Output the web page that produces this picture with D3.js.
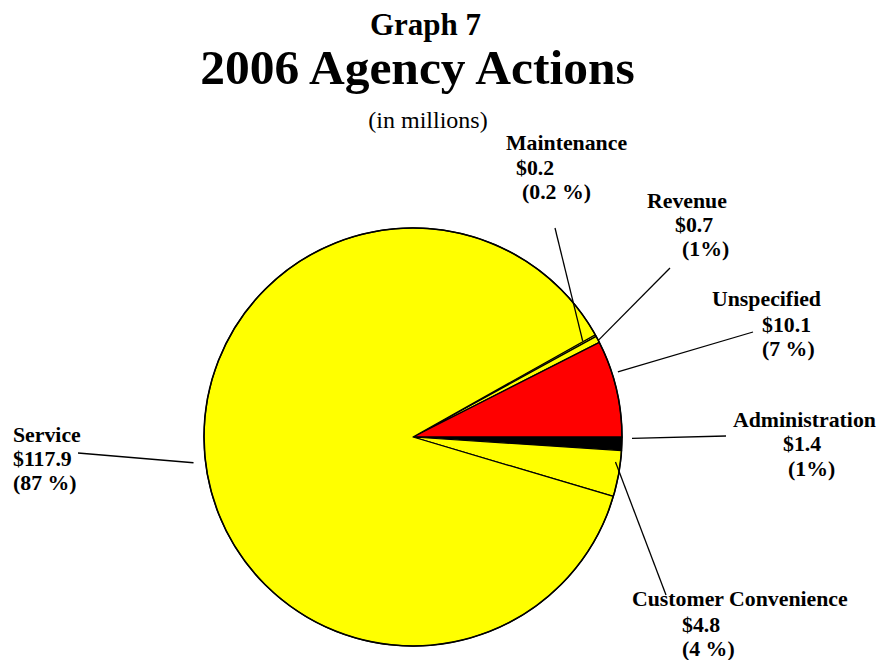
<!DOCTYPE html>
<html>
<head>
<meta charset="utf-8">
<script src="https://cdn.jsdelivr.net/npm/d3@7/dist/d3.min.js"></script>
<style>
  html, body { margin: 0; padding: 0; background: #fff; }
  svg { display: block; }
  text { font-family: "Liberation Serif", "Times New Roman", serif; fill: #000; }
</style>
</head>
<body>
<svg id="chart" width="879" height="660"></svg>
<script>
// ---- data ----
const categories = ["Maintenance", "Revenue", "Unspecified", "Administration", "Customer Convenience", "Service"];
const values = [0.2, 0.7, 10.1, 1.4, 4.8, 117.9];
const valueLabels = ["$0.2", "$0.7", "$10.1", "$1.4", "$4.8", "$117.9"];
const percentLabels = ["(0.2 %)", "(1%)", "(7 %)", "(1%)", "(4 %)", "(87 %)"];
const colors = ["#FFFF00", "#FFFF00", "#FF0000", "#000000", "#FFFF00", "#FFFF00"];

// ---- layout (label positions, leader geometry) ----
const labelLayout = [
  { lines: [[506, 150], [516, 175], [522, 199]], leaderTo: [555, 228], angOff: -0.5, rad: 195 },
  { lines: [[647, 208], [675, 232], [682, 256]], leaderTo: [670, 268], angOff: 0.3, rad: 209 },
  { lines: [[712, 306], [762, 332], [762, 356]], leaderTo: [753, 332], angOff: -4.2, rad: 215 },
  { lines: [[733, 427], [783, 451], [788, 476]], leaderTo: [726, 436], angOff: -1.5, rad: 219 },
  { lines: [[632, 606], [682, 632], [682, 656]], leaderTo: [666, 595], angOff: -3.1, rad: 204 },
  { lines: [[13, 442], [13, 466], [13, 490]], leaderTo: [78, 453], angOff: -0.3, rad: 221 }
];

const svg = d3.select("#chart");
const cx = 413, cy = 437, R = 209;

// titles
svg.append("text").attr("x", 425.5).attr("y", 35).attr("text-anchor", "middle")
  .attr("font-size", 31).attr("font-weight", "bold").text("Graph 7");
svg.append("text").attr("x", 417.5).attr("y", 84).attr("text-anchor", "middle")
  .attr("font-size", 49.5).attr("font-weight", "bold").text("2006 Agency Actions");
svg.append("text").attr("x", 428).attr("y", 128).attr("text-anchor", "middle")
  .attr("font-size", 24).text("(in millions)");

// pie
const total = d3.sum(values);
const leadFrac = (values[0] + values[1] + values[2]) / total;
const start = Math.PI / 2 - leadFrac * 2 * Math.PI;
const pie = d3.pie().sort(null).value(d => d).startAngle(start).endAngle(start + 2 * Math.PI);
const arcs = pie(values);
const arc = d3.arc().innerRadius(0).outerRadius(R);

const g = svg.append("g").attr("transform", `translate(${cx},${cy})`);
g.selectAll("path.slice").data(arcs).enter().append("path")
  .attr("class", "slice")
  .attr("d", arc)
  .attr("fill", (d, i) => colors[i])
  .attr("stroke", "#000")
  .attr("stroke-width", 1.2)
  .attr("stroke-linejoin", "round");
// outer rim
g.append("circle").attr("r", R).attr("fill", "none")
  .attr("stroke", "#000").attr("stroke-width", 1.6);

// leader lines
arcs.forEach((a, i) => {
  const L = labelLayout[i];
  const ang = (a.startAngle + a.endAngle) / 2 + L.angOff * Math.PI / 180;
  const x1 = cx + L.rad * Math.sin(ang);
  const y1 = cy - L.rad * Math.cos(ang);
  svg.append("line")
    .attr("x1", x1).attr("y1", y1)
    .attr("x2", L.leaderTo[0]).attr("y2", L.leaderTo[1])
    .attr("stroke", "#000").attr("stroke-width", 1.3);
});

// labels
categories.forEach((c, i) => {
  const L = labelLayout[i];
  const texts = [c, valueLabels[i], percentLabels[i]];
  texts.forEach((t, j) => {
    svg.append("text")
      .attr("x", L.lines[j][0]).attr("y", L.lines[j][1])
      .attr("font-size", 21.8).attr("font-weight", "bold")
      .text(t);
  });
});
</script>
</body>
</html>
